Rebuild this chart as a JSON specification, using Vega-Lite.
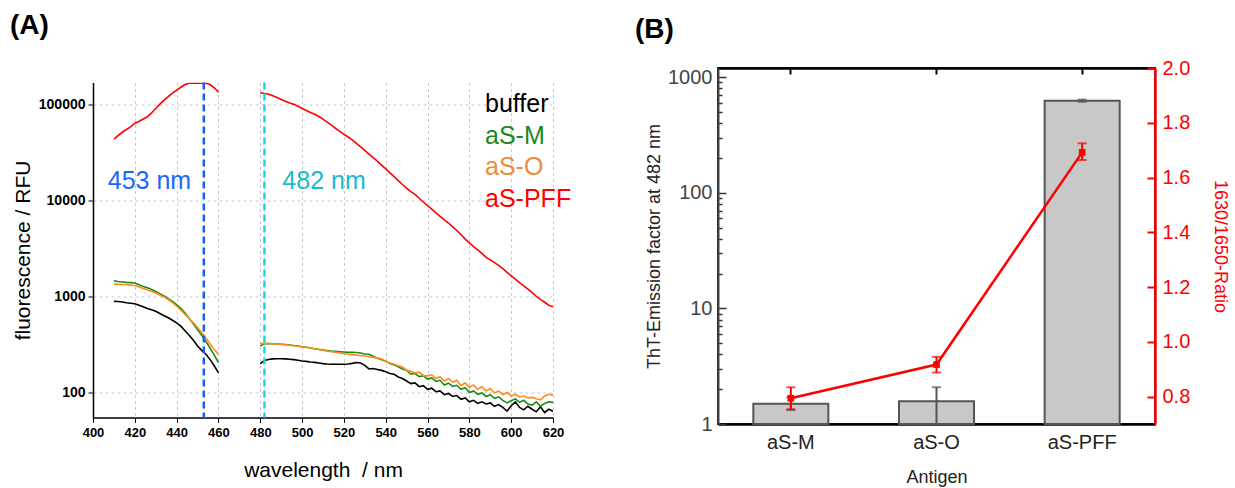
{
  "$schema": "https://vega.github.io/schema/vega-lite/v6.json",
  "padding": {"left": 10, "top": 12, "right": 0, "bottom": 0},
  "spacing": 62,
  "center": true,
  "config": {
    "font": "Liberation Sans",
    "view": {"stroke": null},
    "axis": {"labelFont": "Liberation Sans", "titleFont": "Liberation Sans"}
  },
  "hconcat": [
    {
      "width": 460,
      "height": 335,
      "title": {"text": "(A)", "anchor": "start", "frame": "group", "fontSize": 28, "fontWeight": "bold", "color": "#000000", "dx": -83, "offset": 41},
      "layer": [
        {
          "data": {
            "values": [
              {"seg": 1, "wl": 410, "buffer": 888, "aS-M": 1455, "aS-O": 1344, "aS-PFF": 43200},
              {"seg": 1, "wl": 412, "buffer": 885, "aS-M": 1430, "aS-O": 1340, "aS-PFF": 47000},
              {"seg": 1, "wl": 414, "buffer": 875, "aS-M": 1415, "aS-O": 1330, "aS-PFF": 51000},
              {"seg": 1, "wl": 416, "buffer": 860, "aS-M": 1400, "aS-O": 1320, "aS-PFF": 54500},
              {"seg": 1, "wl": 418, "buffer": 850, "aS-M": 1390, "aS-O": 1310, "aS-PFF": 58000},
              {"seg": 1, "wl": 420, "buffer": 840, "aS-M": 1377, "aS-O": 1300, "aS-PFF": 63400},
              {"seg": 1, "wl": 422, "buffer": 810, "aS-M": 1320, "aS-O": 1255, "aS-PFF": 66000},
              {"seg": 1, "wl": 424, "buffer": 780, "aS-M": 1270, "aS-O": 1210, "aS-PFF": 70000},
              {"seg": 1, "wl": 426, "buffer": 750, "aS-M": 1230, "aS-O": 1170, "aS-PFF": 74000},
              {"seg": 1, "wl": 428, "buffer": 725, "aS-M": 1180, "aS-O": 1125, "aS-PFF": 81000},
              {"seg": 1, "wl": 430, "buffer": 700, "aS-M": 1127, "aS-O": 1085, "aS-PFF": 90000},
              {"seg": 1, "wl": 432, "buffer": 665, "aS-M": 1070, "aS-O": 1035, "aS-PFF": 100000},
              {"seg": 1, "wl": 434, "buffer": 630, "aS-M": 1010, "aS-O": 985, "aS-PFF": 110000},
              {"seg": 1, "wl": 436, "buffer": 600, "aS-M": 950, "aS-O": 925, "aS-PFF": 120000},
              {"seg": 1, "wl": 438, "buffer": 565, "aS-M": 890, "aS-O": 860, "aS-PFF": 130000},
              {"seg": 1, "wl": 440, "buffer": 530, "aS-M": 820, "aS-O": 790, "aS-PFF": 140000},
              {"seg": 1, "wl": 442, "buffer": 490, "aS-M": 750, "aS-O": 720, "aS-PFF": 150000},
              {"seg": 1, "wl": 444, "buffer": 440, "aS-M": 670, "aS-O": 650, "aS-PFF": 160000},
              {"seg": 1, "wl": 446, "buffer": 395, "aS-M": 590, "aS-O": 590, "aS-PFF": 165000},
              {"seg": 1, "wl": 448, "buffer": 350, "aS-M": 520, "aS-O": 530, "aS-PFF": 165000},
              {"seg": 1, "wl": 450, "buffer": 305, "aS-M": 450, "aS-O": 475, "aS-PFF": 165000},
              {"seg": 1, "wl": 452, "buffer": 275, "aS-M": 395, "aS-O": 420, "aS-PFF": 165000},
              {"seg": 1, "wl": 454, "buffer": 250, "aS-M": 340, "aS-O": 370, "aS-PFF": 165000},
              {"seg": 1, "wl": 456, "buffer": 220, "aS-M": 290, "aS-O": 320, "aS-PFF": 160000},
              {"seg": 1, "wl": 458, "buffer": 190, "aS-M": 245, "aS-O": 280, "aS-PFF": 148000},
              {"seg": 1, "wl": 460, "buffer": 160, "aS-M": 205, "aS-O": 250, "aS-PFF": 133000},
              {"seg": 2, "wl": 480, "buffer": 200, "aS-M": 305, "aS-O": 322, "aS-PFF": 131000},
              {"seg": 2, "wl": 482, "buffer": 215, "aS-M": 322, "aS-O": 325, "aS-PFF": 129000},
              {"seg": 2, "wl": 484, "buffer": 221, "aS-M": 324, "aS-O": 324, "aS-PFF": 127000},
              {"seg": 2, "wl": 486, "buffer": 224, "aS-M": 322, "aS-O": 322, "aS-PFF": 122000},
              {"seg": 2, "wl": 488, "buffer": 225, "aS-M": 320, "aS-O": 320, "aS-PFF": 117000},
              {"seg": 2, "wl": 490, "buffer": 225, "aS-M": 318, "aS-O": 317, "aS-PFF": 112000},
              {"seg": 2, "wl": 492, "buffer": 224, "aS-M": 316, "aS-O": 314, "aS-PFF": 107000},
              {"seg": 2, "wl": 494, "buffer": 222, "aS-M": 312, "aS-O": 311, "aS-PFF": 103000},
              {"seg": 2, "wl": 496, "buffer": 220, "aS-M": 308, "aS-O": 307, "aS-PFF": 100000},
              {"seg": 2, "wl": 498, "buffer": 217, "aS-M": 304, "aS-O": 303, "aS-PFF": 95000},
              {"seg": 2, "wl": 500, "buffer": 213, "aS-M": 300, "aS-O": 300, "aS-PFF": 90000},
              {"seg": 2, "wl": 502, "buffer": 211, "aS-M": 296, "aS-O": 296, "aS-PFF": 86000},
              {"seg": 2, "wl": 504, "buffer": 208, "aS-M": 291, "aS-O": 291, "aS-PFF": 82000},
              {"seg": 2, "wl": 506, "buffer": 206, "aS-M": 286, "aS-O": 286, "aS-PFF": 78500},
              {"seg": 2, "wl": 508, "buffer": 203, "aS-M": 281, "aS-O": 280, "aS-PFF": 74500},
              {"seg": 2, "wl": 510, "buffer": 200, "aS-M": 277, "aS-O": 275, "aS-PFF": 70000},
              {"seg": 2, "wl": 512, "buffer": 198, "aS-M": 273, "aS-O": 270, "aS-PFF": 65000},
              {"seg": 2, "wl": 514, "buffer": 197, "aS-M": 270, "aS-O": 266, "aS-PFF": 60500},
              {"seg": 2, "wl": 516, "buffer": 197, "aS-M": 268, "aS-O": 262, "aS-PFF": 56000},
              {"seg": 2, "wl": 518, "buffer": 197, "aS-M": 266, "aS-O": 258, "aS-PFF": 52000},
              {"seg": 2, "wl": 520, "buffer": 197, "aS-M": 264, "aS-O": 253, "aS-PFF": 48500},
              {"seg": 2, "wl": 522, "buffer": 198, "aS-M": 262, "aS-O": 250, "aS-PFF": 45500},
              {"seg": 2, "wl": 524, "buffer": 201, "aS-M": 262, "aS-O": 248, "aS-PFF": 42500},
              {"seg": 2, "wl": 526, "buffer": 205, "aS-M": 261, "aS-O": 245, "aS-PFF": 39000},
              {"seg": 2, "wl": 528, "buffer": 203, "aS-M": 258, "aS-O": 243, "aS-PFF": 36000},
              {"seg": 2, "wl": 530, "buffer": 192, "aS-M": 252, "aS-O": 240, "aS-PFF": 33000},
              {"seg": 2, "wl": 532, "buffer": 176, "aS-M": 250, "aS-O": 236, "aS-PFF": 30200},
              {"seg": 2, "wl": 534, "buffer": 178, "aS-M": 238, "aS-O": 232, "aS-PFF": 27800},
              {"seg": 2, "wl": 536, "buffer": 174, "aS-M": 228, "aS-O": 228, "aS-PFF": 25500},
              {"seg": 2, "wl": 538, "buffer": 170, "aS-M": 220, "aS-O": 224, "aS-PFF": 23200},
              {"seg": 2, "wl": 540, "buffer": 165, "aS-M": 212, "aS-O": 210, "aS-PFF": 21200},
              {"seg": 2, "wl": 542, "buffer": 158, "aS-M": 200, "aS-O": 203, "aS-PFF": 19300},
              {"seg": 2, "wl": 544, "buffer": 155, "aS-M": 194, "aS-O": 197, "aS-PFF": 17600},
              {"seg": 2, "wl": 546, "buffer": 145, "aS-M": 185, "aS-O": 190, "aS-PFF": 16000},
              {"seg": 2, "wl": 548, "buffer": 140, "aS-M": 176, "aS-O": 184, "aS-PFF": 14600},
              {"seg": 2, "wl": 550, "buffer": 132, "aS-M": 170, "aS-O": 170, "aS-PFF": 13400},
              {"seg": 2, "wl": 552, "buffer": 124, "aS-M": 155, "aS-O": 166, "aS-PFF": 12300},
              {"seg": 2, "wl": 554, "buffer": 126, "aS-M": 158, "aS-O": 160, "aS-PFF": 11500},
              {"seg": 2, "wl": 556, "buffer": 115, "aS-M": 146, "aS-O": 163, "aS-PFF": 10500},
              {"seg": 2, "wl": 558, "buffer": 118, "aS-M": 150, "aS-O": 150, "aS-PFF": 9600},
              {"seg": 2, "wl": 560, "buffer": 108, "aS-M": 138, "aS-O": 149, "aS-PFF": 8800},
              {"seg": 2, "wl": 562, "buffer": 111, "aS-M": 142, "aS-O": 153, "aS-PFF": 8100},
              {"seg": 2, "wl": 564, "buffer": 102, "aS-M": 131, "aS-O": 140, "aS-PFF": 7400},
              {"seg": 2, "wl": 566, "buffer": 104, "aS-M": 134, "aS-O": 146, "aS-PFF": 6800},
              {"seg": 2, "wl": 568, "buffer": 95, "aS-M": 120, "aS-O": 132, "aS-PFF": 6250},
              {"seg": 2, "wl": 570, "buffer": 98, "aS-M": 125, "aS-O": 140, "aS-PFF": 5800},
              {"seg": 2, "wl": 572, "buffer": 91, "aS-M": 116, "aS-O": 128, "aS-PFF": 5300},
              {"seg": 2, "wl": 574, "buffer": 93, "aS-M": 119, "aS-O": 134, "aS-PFF": 4850},
              {"seg": 2, "wl": 576, "buffer": 85, "aS-M": 108, "aS-O": 118, "aS-PFF": 4400},
              {"seg": 2, "wl": 578, "buffer": 88, "aS-M": 112, "aS-O": 126, "aS-PFF": 3950},
              {"seg": 2, "wl": 580, "buffer": 80, "aS-M": 100, "aS-O": 113, "aS-PFF": 3600},
              {"seg": 2, "wl": 582, "buffer": 83, "aS-M": 104, "aS-O": 120, "aS-PFF": 3300},
              {"seg": 2, "wl": 584, "buffer": 77, "aS-M": 96, "aS-O": 108, "aS-PFF": 3050},
              {"seg": 2, "wl": 586, "buffer": 80, "aS-M": 99, "aS-O": 115, "aS-PFF": 2800},
              {"seg": 2, "wl": 588, "buffer": 76, "aS-M": 91, "aS-O": 104, "aS-PFF": 2550},
              {"seg": 2, "wl": 590, "buffer": 78, "aS-M": 95, "aS-O": 110, "aS-PFF": 2400},
              {"seg": 2, "wl": 592, "buffer": 72, "aS-M": 87, "aS-O": 99, "aS-PFF": 2250},
              {"seg": 2, "wl": 594, "buffer": 75, "aS-M": 90, "aS-O": 104, "aS-PFF": 2100},
              {"seg": 2, "wl": 596, "buffer": 70, "aS-M": 83, "aS-O": 95, "aS-PFF": 1950},
              {"seg": 2, "wl": 598, "buffer": 64, "aS-M": 78, "aS-O": 100, "aS-PFF": 1780},
              {"seg": 2, "wl": 600, "buffer": 73, "aS-M": 82, "aS-O": 92, "aS-PFF": 1640},
              {"seg": 2, "wl": 602, "buffer": 80, "aS-M": 86, "aS-O": 96, "aS-PFF": 1510},
              {"seg": 2, "wl": 604, "buffer": 70, "aS-M": 79, "aS-O": 90, "aS-PFF": 1390},
              {"seg": 2, "wl": 606, "buffer": 66, "aS-M": 83, "aS-O": 92, "aS-PFF": 1290},
              {"seg": 2, "wl": 608, "buffer": 72, "aS-M": 76, "aS-O": 88, "aS-PFF": 1190},
              {"seg": 2, "wl": 610, "buffer": 67, "aS-M": 74, "aS-O": 89, "aS-PFF": 1100},
              {"seg": 2, "wl": 612, "buffer": 63, "aS-M": 80, "aS-O": 86, "aS-PFF": 1000},
              {"seg": 2, "wl": 614, "buffer": 71, "aS-M": 72, "aS-O": 84, "aS-PFF": 930},
              {"seg": 2, "wl": 616, "buffer": 62, "aS-M": 77, "aS-O": 92, "aS-PFF": 870},
              {"seg": 2, "wl": 618, "buffer": 67, "aS-M": 80, "aS-O": 96, "aS-PFF": 810},
              {"seg": 2, "wl": 620, "buffer": 64, "aS-M": 79, "aS-O": 94, "aS-PFF": 780}
            ]
          },
          "transform": [{"fold": ["buffer", "aS-M", "aS-O", "aS-PFF"], "as": ["series", "v"]}],
          "mark": {"type": "line", "strokeWidth": 1.6, "clip": true},
          "encoding": {
            "x": {
              "field": "wl", "type": "quantitative",
              "scale": {"domain": [400, 620], "nice": false},
              "axis": {
                "title": "wavelength\u00a0 / nm", "values": [400, 420, 440, 460, 480, 500, 520, 540, 560, 580, 600, 620],
                "labelFlush": false,
                "grid": true, "gridDash": [3, 3], "gridColor": "#c8c8c8", "gridWidth": 1,
                "labelFontWeight": "bold", "labelFontSize": 13, "labelColor": "#000000", "labelPadding": 4,
                "tickColor": "#000000", "tickSize": 5, "domainColor": "#000000", "domainWidth": 1.5,
                "titleFontSize": 21, "titleFontWeight": "normal", "titleColor": "#000000", "titlePadding": 20
              }
            },
            "y": {
              "field": "v", "type": "quantitative",
              "scale": {"type": "log", "domain": [55, 168000], "nice": false},
              "axis": {
                "title": "fluorescence / RFU", "values": [100, 1000, 10000, 100000], "format": "d",
                "labelFlush": false,
                "grid": true, "gridDash": [3, 3], "gridColor": "#c8c8c8", "gridWidth": 1,
                "labelFontWeight": "bold", "labelFontSize": 14, "labelColor": "#000000", "labelPadding": 3,
                "tickColor": "#000000", "tickSize": 5, "domainColor": "#000000", "domainWidth": 1.5,
                "titleFontSize": 21, "titleFontWeight": "normal", "titleColor": "#000000", "titlePadding": 5
              }
            },
            "color": {
              "field": "series", "type": "nominal",
              "scale": {"domain": ["buffer", "aS-M", "aS-O", "aS-PFF"], "range": ["#000000", "#1a8a1a", "#ff8c1a", "#ff0000"]},
              "legend": null
            },
            "detail": {"field": "seg", "type": "nominal"}
          }
        },
        {
          "data": {"values": [{}]},
          "mark": {"type": "rule", "color": "#1560f0", "strokeWidth": 2.5, "strokeDash": [7, 4]},
          "encoding": {"x": {"datum": 453}}
        },
        {
          "data": {"values": [{}]},
          "mark": {"type": "rule", "color": "#18d8f0", "strokeWidth": 2.5, "strokeDash": [7, 4]},
          "encoding": {"x": {"datum": 482}}
        },
        {
          "data": {"values": [{}]},
          "mark": {"type": "text", "text": "453 nm", "fontSize": 25, "color": "#1a66ff", "align": "center", "baseline": "middle"},
          "encoding": {"x": {"datum": 427}, "y": {"datum": 16000}}
        },
        {
          "data": {"values": [{}]},
          "mark": {"type": "text", "text": "482 nm", "fontSize": 25, "color": "#1cb8cc", "align": "center", "baseline": "middle"},
          "encoding": {"x": {"datum": 510.5}, "y": {"datum": 16000}}
        },
        {
          "data": {"values": [{}]},
          "mark": {"type": "text", "text": "buffer", "fontSize": 25, "color": "#000000", "align": "left", "baseline": "middle"},
          "encoding": {"x": {"datum": 587.5}, "y": {"datum": 100000}}
        },
        {
          "data": {"values": [{}]},
          "mark": {"type": "text", "text": "aS-M", "fontSize": 25, "color": "#1a8a1a", "align": "left", "baseline": "middle"},
          "encoding": {"x": {"datum": 587.5}, "y": {"datum": 47000}}
        },
        {
          "data": {"values": [{}]},
          "mark": {"type": "text", "text": "aS-O", "fontSize": 25, "color": "#f08a3c", "align": "left", "baseline": "middle"},
          "encoding": {"x": {"datum": 587.5}, "y": {"datum": 22000}}
        },
        {
          "data": {"values": [{}]},
          "mark": {"type": "text", "text": "aS-PFF", "fontSize": 25, "color": "#ff0000", "align": "left", "baseline": "middle"},
          "encoding": {"x": {"datum": 587.5}, "y": {"datum": 10200}}
        }
      ]
    },
    {
      "width": 437,
      "height": 356,
      "title": {"text": "(B)", "anchor": "start", "frame": "group", "fontSize": 28, "fontWeight": "bold", "color": "#000000", "dx": -83, "offset": 14},
      "view": {"stroke": "#222222", "strokeWidth": 2},
      "data": {
        "values": [
          {"antigen": "aS-M", "ef": 1.5, "ef_lo": 1.32, "ef_hi": 1.7, "ratio": 0.794, "r_lo": 0.754, "r_hi": 0.834},
          {"antigen": "aS-O", "ef": 1.57, "ef_lo": 1.0, "ef_hi": 2.08, "ratio": 0.917, "r_lo": 0.888, "r_hi": 0.945},
          {"antigen": "aS-PFF", "ef": 625, "ef_lo": 612, "ef_hi": 640, "ratio": 1.692, "r_lo": 1.664, "r_hi": 1.725}
        ]
      },
      "layer": [
        {
          "layer": [
            {
              "mark": {"type": "bar", "fill": "#c8c8c8", "stroke": "#555555", "strokeWidth": 2},
              "encoding": {
                "x": {
                  "field": "antigen", "type": "nominal", "sort": null,
                  "scale": {"paddingInner": 0.485, "paddingOuter": 0.2425},
                  "axis": {
                    "orient": "bottom", "title": ["Antigen", " "], "titleLineHeight": 8, "labelAngle": 0,
                    "labelFontSize": 20, "labelColor": "#222222", "labelPadding": 14,
                    "tickSize": -6, "tickColor": "#000000", "tickWidth": 2,
                    "domainColor": "#000000", "domainWidth": 2.5,
                    "titleFontSize": 18, "titleFontWeight": "normal", "titleColor": "#222222", "titlePadding": 16
                  }
                },
                "y": {
                  "field": "ef", "type": "quantitative",
                  "scale": {"type": "log", "domain": [1, 1200], "nice": false},
                  "axis": {
                    "title": "ThT-Emission factor at 482 nm",
                    "values": [1, 2, 3, 4, 5, 6, 7, 8, 9, 10, 20, 30, 40, 50, 60, 70, 80, 90, 100, 200, 300, 400, 500, 600, 700, 800, 900, 1000],
                    "format": "d",
                    "labelExpr": "indexof([1, 10, 100, 1000], datum.value) >= 0 ? datum.label : ''",
                    "labelOverlap": false,
                    "labelFlush": false,
                    "tickSize": {"condition": {"test": "indexof([1, 10, 100, 1000], datum.value) >= 0", "value": -8}, "value": -4},
                    "tickColor": "#333333", "tickWidth": 1.5,
                    "domainColor": "#444444", "domainWidth": 2,
                    "labelFontSize": 20, "labelColor": "#444444", "labelPadding": 14,
                    "titleFontSize": 18, "titleFontWeight": "normal", "titleColor": "#222222", "titlePadding": 4,
                    "grid": false
                  }
                },
                "y2": {"datum": 1}
              }
            },
            {
              "mark": {"type": "errorbar", "color": "#555555", "thickness": 2, "ticks": {"size": 9, "thickness": 2}},
              "encoding": {
                "x": {"field": "antigen", "type": "nominal", "sort": null},
                "y": {"field": "ef_lo", "type": "quantitative", "title": "ThT-Emission factor at 482 nm"},
                "y2": {"field": "ef_hi"}
              }
            }
          ]
        },
        {
          "layer": [
            {
              "mark": {"type": "line", "color": "#ff0000", "strokeWidth": 2.5},
              "encoding": {
                "x": {
                  "field": "antigen", "type": "nominal", "sort": null,
                  "axis": {"orient": "top", "labels": false, "title": null, "tickSize": -6, "tickColor": "#000000", "tickWidth": 2, "domainColor": "#000000", "domainWidth": 2.5}
                },
                "y": {
                  "field": "ratio", "type": "quantitative",
                  "scale": {"domain": [0.7, 2.0], "nice": false, "zero": false},
                  "axis": {
                    "orient": "right", "title": "1630/1650-Ratio",
                    "values": [0.8, 0.9, 1.0, 1.1, 1.2, 1.3, 1.4, 1.5, 1.6, 1.7, 1.8, 1.9, 2.0],
                    "format": ".1f",
                    "labelExpr": "indexof([0.8, 1, 1.2, 1.4, 1.6, 1.8, 2], datum.value) >= 0 ? datum.label : ''",
                    "labelOverlap": false,
                    "labelFlush": false,
                    "tickSize": {"condition": {"test": "indexof([0.8, 1, 1.2, 1.4, 1.6, 1.8, 2], datum.value) >= 0", "value": -8}, "value": -4},
                    "tickColor": "#ff0000", "tickWidth": 2,
                    "domainColor": "#ff0000", "domainWidth": 2.5,
                    "labelFontSize": 20, "labelColor": "#ff0000", "labelPadding": 15,
                    "titleFontSize": 18, "titleFontWeight": "normal", "titleColor": "#ff0000", "titlePadding": 21,
                    "grid": false
                  }
                }
              }
            },
            {
              "mark": {"type": "errorbar", "color": "#ff0000", "thickness": 2, "ticks": {"size": 9, "thickness": 2}},
              "encoding": {
                "x": {"field": "antigen", "type": "nominal", "sort": null},
                "y": {"field": "r_lo", "type": "quantitative", "title": "1630/1650-Ratio"},
                "y2": {"field": "r_hi"}
              }
            },
            {
              "mark": {"type": "point", "shape": "square", "filled": true, "size": 45, "color": "#ff0000", "opacity": 1},
              "encoding": {
                "x": {"field": "antigen", "type": "nominal", "sort": null},
                "y": {"field": "ratio", "type": "quantitative", "title": "1630/1650-Ratio"}
              }
            }
          ]
        }
      ],
      "resolve": {"scale": {"y": "independent"}, "axis": {"x": "independent", "y": "independent"}}
    }
  ]
}
